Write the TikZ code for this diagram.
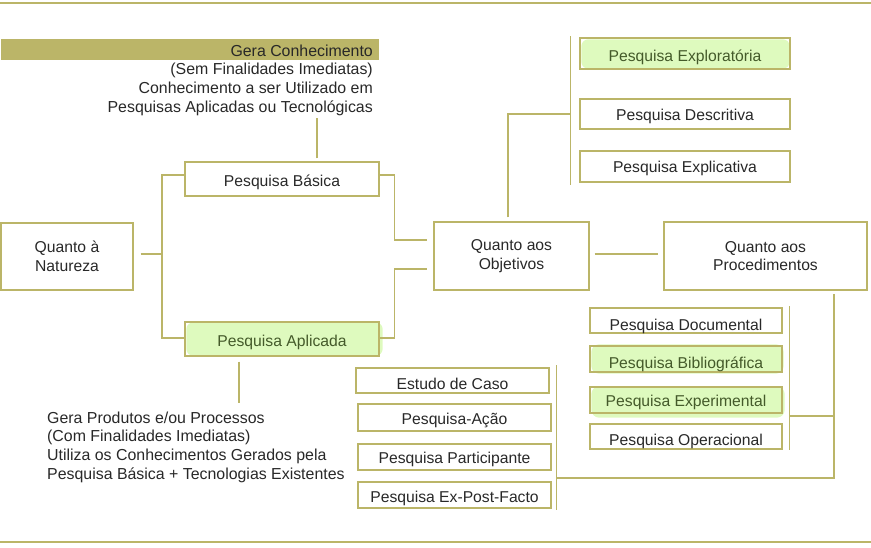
\documentclass[tikz,border=0pt]{standalone}
\usepackage{fontspec}
\setmainfont{Liberation Sans}
\usetikzlibrary{calc}
\pgfdeclarelayer{bg}
\pgfsetlayers{bg,main}
\definecolor{olv}{RGB}{187,181,104}
\definecolor{hl}{RGB}{222,250,190}
\definecolor{txt}{RGB}{40,40,40}
\definecolor{hltxt}{RGB}{68,90,42}
\tikzset{
  box/.style={draw=olv, line width=1.4pt, inner sep=0pt, text=txt,
    font=\fontsize{15.7}{18.6}\selectfont},
  tb/.style={text height=#1, text depth=0pt},
  hlbox/.style={text=hltxt},
  conn/.style={draw=olv, line width=1.4pt},
  rule/.style={draw=olv, line width=1.2pt},
  note/.style={inner sep=0pt, text=txt, font=\fontsize{15.9}{18.7}\selectfont},
}
\begin{document}
\begin{tikzpicture}[x=1pt,y=-1pt]
\useasboundingbox (0,0) rectangle (871,547);
% rules
\draw[rule] (0,3) -- (871,3);
\draw[rule] (0,542) -- (871,542);
% gold bar and note
\node[fill=olv, minimum width=378pt, minimum height=21pt, inner sep=0pt, anchor=north west] (bar) at (1,39) {};
\node[note, align=right, anchor=north east] (gera) at (373,44.5)
  {Gera Conhecimento\\(Sem Finalidades Imediatas)\\Conhecimento a ser Utilizado em\\Pesquisas Aplicadas ou Tecnológicas};
% main boxes
\node[box, align=center, minimum width=132pt, minimum height=67pt] (nat) at (67,256.5) {Quanto à\\Natureza};
\node[box, tb=14pt, minimum width=194pt, minimum height=34pt] (bas) at (282,179) {Pesquisa Básica};
\node[box, hlbox, tb=15.4pt, minimum width=194pt, minimum height=34pt] (apl) at (282,339) {Pesquisa Aplicada};
\node[box, align=center, minimum width=155pt, minimum height=68pt] (obj) at (511.5,256) {Quanto aos\\Objetivos};
\node[box, align=center, minimum width=203pt, minimum height=68pt] (proc) at (765.5,256) {Quanto aos\\Procedimentos};
% objetivos
\node[box, hlbox, tb=16.4pt, minimum width=210pt, minimum height=31pt] (explo) at (685,53.5) {Pesquisa Exploratória};
\node[box, tb=13.4pt, minimum width=210pt, minimum height=30pt] (desc) at (685,114) {Pesquisa Descritiva};
\node[box, tb=12.4pt, minimum width=210pt, minimum height=31pt] (expli) at (685,166.5) {Pesquisa Explicativa};
% procedimentos right column
\node[box, tb=20.4pt, minimum width=192pt, minimum height=25pt] (doc) at (686,320.5) {Pesquisa Documental};
\node[box, hlbox, tb=18.6pt, minimum width=192pt, minimum height=26pt] (bib) at (686,359) {Pesquisa Bibliográfica};
\node[box, hlbox, tb=13.4pt, minimum width=192pt, minimum height=26pt] (exper) at (686,400) {Pesquisa Experimental};
\node[box, tb=18.4pt, minimum width=192pt, minimum height=25pt] (oper) at (686,436.5) {Pesquisa Operacional};
% procedimentos left column
\node[box, tb=17.6pt, minimum width=193pt, minimum height=25pt] (caso) at (452.5,380.5) {Estudo de Caso};
\node[box, tb=14.4pt, minimum width=193pt, minimum height=27pt] (acao) at (454.5,417.5) {Pesquisa-Ação};
\node[box, tb=12.6pt, minimum width=193pt, minimum height=26pt] (part) at (454.5,457) {Pesquisa Participante};
\node[box, tb=14.6pt, minimum width=193pt, minimum height=26pt] (expost) at (454.5,495) {Pesquisa Ex-Post-Facto};
% lower note
\node[note, align=left, anchor=north west] (gprod) at (47,411.5)
  {Gera Produtos e/ou Processos\\(Com Finalidades Imediatas)\\Utiliza os Conhecimentos Gerados pela\\Pesquisa Básica + Tecnologias Existentes};
% highlights
\begin{pgfonlayer}{bg}
\fill[hl, rounded corners=7pt] ([shift={(2pt,1pt)}]apl.south west) rectangle ([shift={(3pt,-1pt)}]apl.north east);
\fill[hl, rounded corners=7pt] ([shift={(2pt,1pt)}]explo.south west) rectangle ([shift={(-1pt,-2pt)}]explo.north east);
\fill[hl, rounded corners=8pt] ([shift={(2pt,-1pt)}]bib.south west) rectangle ([shift={(1pt,1pt)}]bib.north east);
\fill[hl, rounded corners=8pt] ([shift={(2pt,-4pt)}]exper.south west) rectangle ([shift={(2pt,0pt)}]exper.north east);
\end{pgfonlayer}
% connectors
\coordinate (jL) at (162,254);
\draw[conn] ([xshift=7pt]nat.east |- jL) -- (jL);
\draw[conn] ([yshift=4pt]bas.west) -| (jL) |- ([yshift=1pt]apl.west);
\draw[conn] ([xshift=35pt,yshift=3pt]bas.north) -- ++(0,-40);
\draw[conn] ([xshift=-43pt,yshift=-5pt]apl.south) -- ++(0,41);
\draw[conn] ([yshift=4pt]bas.east) -- ++(15,0) |- ([xshift=-6pt,yshift=16pt]obj.west);
\draw[conn] ([yshift=1pt]apl.east) -- ++(15,0) |- ([xshift=-6pt,yshift=-13pt]obj.west);
\draw[conn] ([xshift=5pt,yshift=2pt]obj.east) -- ([xshift=-5pt,yshift=2pt]proc.west);
\draw[conn] ([xshift=-3.5pt,yshift=4pt]obj.north) |- ([xshift=-9pt]desc.west);
\draw[conn] ([xshift=-9pt,yshift=1pt]explo.north west) -- ([xshift=-9pt,yshift=-2pt]expli.south west);
\coordinate (pj) at (834,294);
\coordinate (lj) at (556,478);
\coordinate (rj) at (789,416);
\draw[conn] (pj) |- (lj);
\draw[conn] (rj) -- (rj -| pj);
\draw[conn] ([xshift=7pt,yshift=1pt]doc.north east) -- ([xshift=7pt]oper.south east);
\draw[conn] ([xshift=7pt,yshift=2pt]caso.north east) -- ([xshift=5pt,yshift=-1pt]expost.south east);
\end{tikzpicture}
\end{document}
